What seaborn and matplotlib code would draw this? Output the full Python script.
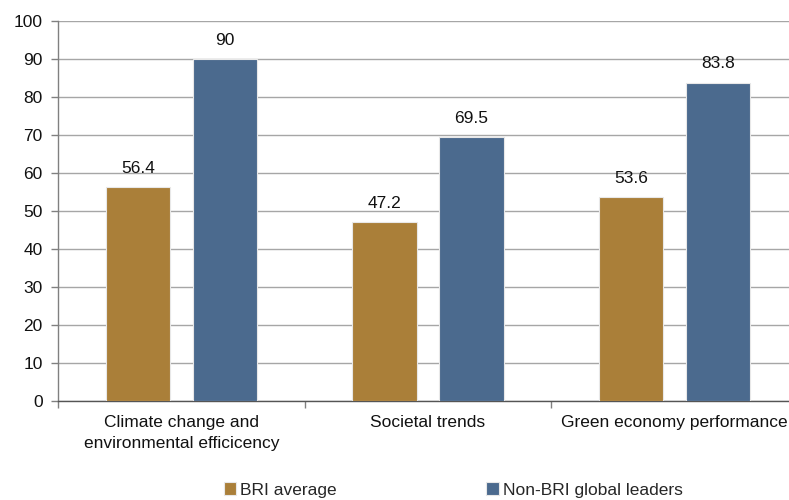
import matplotlib
matplotlib.use("Agg")
import matplotlib.pyplot as plt
import seaborn as sns
import pandas as pd
from matplotlib.ticker import FixedLocator, NullFormatter

categories = ["Climate change and\nenvironmental efficicency", "Societal trends", "Green economy performance"]
series_names = ["BRI average", "Non-BRI global leaders"]
bri_average = [56.4, 47.2, 53.6]
non_bri_leaders = [90, 69.5, 83.8]
colors = ["#AA7F39", "#4B6A8E"]

df = pd.DataFrame({
    "category": categories * 2,
    "series": [series_names[0]] * 3 + [series_names[1]] * 3,
    "value": bri_average + non_bri_leaders,
})

sns.set_theme(style="white")
plt.rcParams["font.family"] = ["Liberation Sans", "DejaVu Sans"]
FS = 12.5

fig = plt.figure(figsize=(7.89, 5.0), dpi=100)
ax = fig.add_axes([58 / 789, 1 - 401 / 500, 740 / 789, 380 / 500])

sns.barplot(data=df, x="category", y="value", hue="series", order=categories,
            hue_order=series_names, palette=colors, saturation=1, width=0.705, gap=0.263,
            edgecolor="#E8E8E8", linewidth=0.8, ax=ax, zorder=3, legend=True)

for cont in ax.containers:
    ax.bar_label(cont, labels=[f"{v:g}" for v in cont.datavalues],
                 padding=8, fontsize=FS, color="#111111")

ax.set_xlim(-0.5, 2.5)
ax.set_ylim(0, 100)
ax.set_yticks(range(0, 101, 10))
ax.yaxis.grid(True, color="#A6A6A6", linewidth=1.0, zorder=0)
ax.set_axisbelow(True)

# category boundaries get tick marks, category centers carry the labels
ax.xaxis.set_major_locator(FixedLocator([-0.5, 0.5, 1.5, 2.5]))
ax.xaxis.set_major_formatter(NullFormatter())
ax.set_xticks([0, 1, 2], labels=categories, minor=True)
ax.tick_params(axis="x", which="major", direction="out", length=5, width=1, color="#808080", bottom=True)
ax.tick_params(axis="x", which="minor", length=0, pad=10, labelsize=FS, labelcolor="#111111")
ax.tick_params(axis="y", direction="out", length=5, width=1, color="#808080", left=True,
               labelsize=FS, labelcolor="#111111", pad=6)
ax.set_xlabel("")
ax.set_ylabel("")

for side in ["top", "right"]:
    ax.spines[side].set_visible(False)
ax.spines["left"].set_color("#808080")
ax.spines["bottom"].set_color("#555555")
ax.spines["left"].set_linewidth(1)
ax.spines["bottom"].set_linewidth(1)

handles, labels = ax.get_legend_handles_labels()
ax.legend_.remove()
fig.legend(handles, labels, loc="center left", bbox_to_anchor=(224 / 789, 1 - 490 / 500),
           ncol=2, frameon=False, fontsize=FS, handlelength=0.7, handleheight=0.7,
           handletextpad=0.25, columnspacing=8.6, borderaxespad=0, borderpad=0)

fig.canvas.draw()
for tick in ax.xaxis.get_minor_ticks():
    tick.label1.set_linespacing(1.5)

fig.savefig("out.png", dpi=100)
